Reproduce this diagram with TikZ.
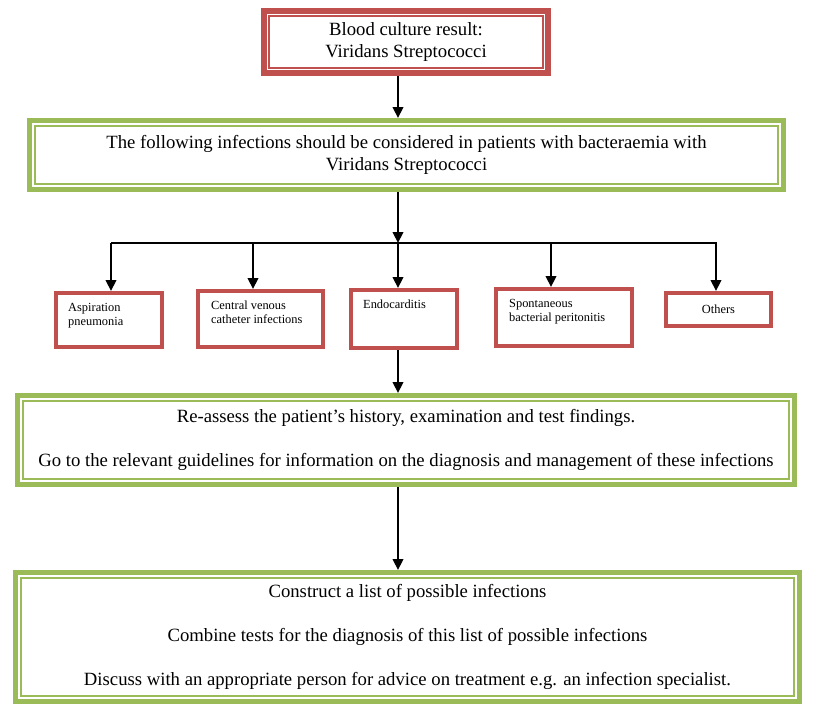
\documentclass[tikz,border=0pt]{standalone}
\usepackage{fontspec}
\setmainfont{Liberation Serif}
\usetikzlibrary{arrows.meta}

\definecolor{boxred}{HTML}{C0504D}
\definecolor{boxgreen}{HTML}{9BBB59}

\tikzset{
  redbox/.style={draw=boxred, line width=6pt, align=center, font=\fontsize{18.7}{22}\selectfont},
  greenbox/.style={draw=boxgreen, line width=5pt, align=center, font=\fontsize{18.7}{22}\selectfont},
  smallbox/.style={draw=boxred, line width=4pt},
  smalltxt/.style={anchor=north west, inner sep=0pt, align=left, font=\fontsize{12.4}{14}\selectfont},
  arr/.style={line width=2.2pt, -{Triangle[length=11pt,width=10.5pt]}},
}

\begin{document}
\begin{tikzpicture}[x=1pt, y=-1pt]
  \useasboundingbox (0,0) rectangle (815,716);

  % main boxes
  \node[redbox, minimum width=284pt, minimum height=62pt] (blood) at (406,42)
    {Blood culture result:\\Viridans Streptococci};
  \node[greenbox, minimum width=754pt, minimum height=69pt] (consider) at (406.5,155)
    {The following infections should be considered in patients with bacteraemia with\\Viridans Streptococci};
  \node[greenbox, minimum width=777pt, minimum height=89pt] (reassess) at (406,440)
    {Re-assess the patient’s history, examination and test findings.\\[22pt]
     Go to the relevant guidelines for information on the diagnosis and management of these infections};
  \node[greenbox, minimum width=784pt, minimum height=129pt] (plan) at (407.5,637)
    {Construct a list of possible infections\\[22pt]
     Combine tests for the diagnosis of this list of possible infections\\[22pt]
     Discuss with an appropriate person for advice on treatment e.g. an infection specialist.};

  % thin inner frame
  \foreach \n/\c in {blood/boxred, consider/boxgreen, reassess/boxgreen, plan/boxgreen}
    \draw[\c, line width=1.5pt] ([shift={(8,8)}]\n.north west) rectangle ([shift={(-8,-8)}]\n.south east);

  % infection boxes
  \node[smallbox, minimum width=106pt, minimum height=54pt] (asp) at (109,320) {};
  \node[smalltxt] (asp-t) at ([shift={(14,12)}]asp.north west) {Aspiration\\pneumonia};
  \node[smallbox, minimum width=125pt, minimum height=56pt] (cvc) at (260.5,319) {};
  \node[smalltxt] (cvc-t) at ([shift={(15,12)}]cvc.north west) {Central venous\\catheter infections};
  \node[smallbox, minimum width=106pt, minimum height=58pt] (endo) at (404,319) {};
  \node[smalltxt] (endo-t) at ([shift={(14,12)}]endo.north west) {Endocarditis};
  \node[smallbox, minimum width=136pt, minimum height=57pt] (sbp) at (564,317.5) {};
  \node[smalltxt] (sbp-t) at ([shift={(15,12)}]sbp.north west) {Spontaneous\\bacterial peritonitis};
  \node[smallbox, minimum width=105pt, minimum height=33pt, font=\fontsize{12.4}{14}\selectfont] (oth) at (718.5,309.5) {Others};

  % connectors
  \coordinate (spine) at (398,0);
  \coordinate (busL) at (111,243);
  \coordinate (busR) at (717,243);
  \draw[line width=1.3pt] (busL) -- (busR);
  \draw[arr] (blood.south -| spine) -- (consider.north -| spine);
  \draw[arr] (consider.south -| spine) -- (spine |- busL);
  \foreach \x/\n in {111/asp, 253/cvc, 398/endo, 551/sbp, 716/oth} {
    \coordinate (drop-\n) at (\x,243);
    \draw[arr] (drop-\n) -- (drop-\n |- \n.north);
  }
  \draw[arr] (endo.south -| spine) -- (reassess.north -| spine);
  \draw[arr] (reassess.south -| spine) -- (plan.north -| spine);
\end{tikzpicture}
\end{document}
